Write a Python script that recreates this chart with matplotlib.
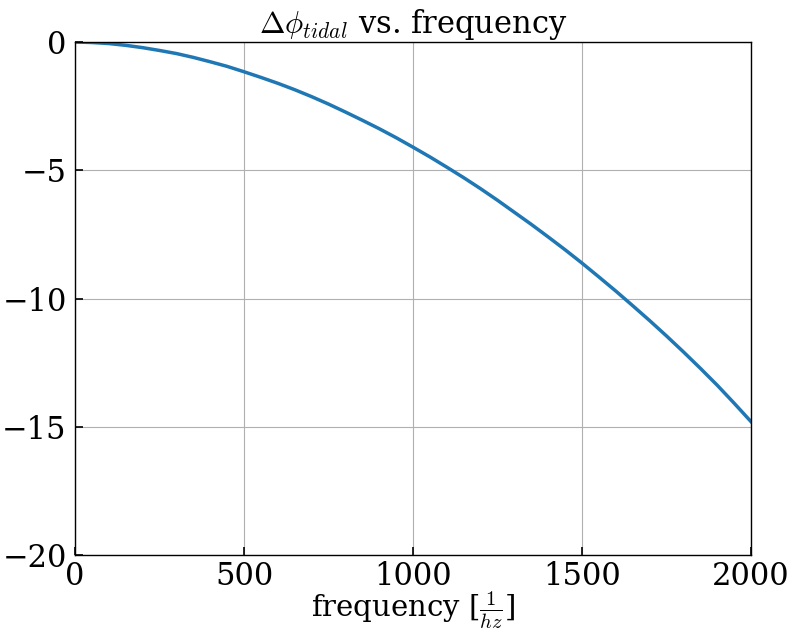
import matplotlib
matplotlib.use('Agg')
import matplotlib.pyplot as plt

plt.rcParams['font.family'] = 'DejaVu Serif'
plt.rcParams['mathtext.fontset'] = 'cm'

# frequency [Hz] and phase shift
freq = [0, 50, 100, 150, 200, 250, 300, 350, 400, 450, 500,
        550, 600, 650, 700, 750, 800, 850, 900, 950, 1000,
        1050, 1100, 1150, 1200, 1250, 1300, 1350, 1400, 1450, 1500,
        1550, 1600, 1650, 1700, 1750, 1800, 1850, 1900, 1950, 2000]
dphi = [0.0, -0.02, -0.06, -0.13, -0.22, -0.33, -0.45, -0.60, -0.77, -0.95, -1.16,
        -1.38, -1.61, -1.86, -2.13, -2.42, -2.73, -3.05, -3.38, -3.73, -4.10,
        -4.48, -4.88, -5.29, -5.72, -6.17, -6.64, -7.11, -7.60, -8.10, -8.62,
        -9.16, -9.71, -10.28, -10.86, -11.46, -12.08, -12.72, -13.38, -14.08, -14.80]

fig = plt.figure(figsize=(7.95, 6.37), dpi=100)
ax = fig.add_axes([75 / 795, 1 - 555 / 637, 676 / 795, 513 / 637])

ax.plot(freq, dphi, color='#1f77b4', linewidth=2.5)
ax.set_xlim(0, 2000)
ax.set_ylim(-20, 0)
ax.set_xticks([0, 500, 1000, 1500, 2000])
ax.set_yticks([-20, -15, -10, -5, 0])
ax.grid(True, color='#b0b0b0', linewidth=0.8)
ax.tick_params(direction='in', length=6, width=1.2, labelsize=22)
ax.tick_params(axis='x', pad=4)
ax.tick_params(axis='y', pad=6)
for s in ax.spines.values():
    s.set_linewidth(1.0)

ax.set_title(r'$\Delta\phi_{tidal}$ vs. frequency', fontsize=22, pad=4)
ax.set_xlabel(r'frequency [$\frac{1}{hz}$]', fontsize=21, labelpad=-2)

fig.savefig('out.png', dpi=100)
